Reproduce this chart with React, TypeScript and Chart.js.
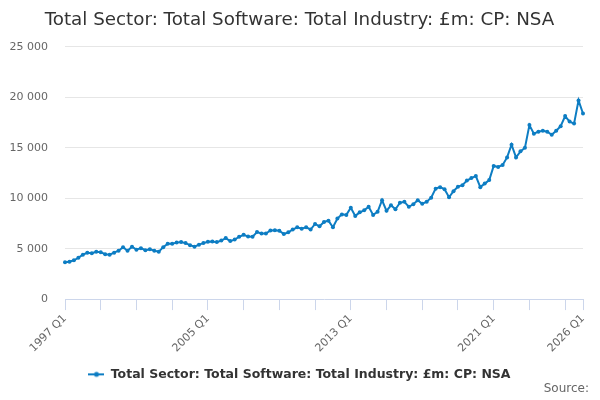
import { useEffect, useRef } from 'react';
import { Chart, registerables } from 'chart.js';
import type { ChartConfiguration } from 'chart.js';

Chart.register(...registerables);

const FIRST_YEAR = 1997;
const LAST_YEAR = 2026;
const quarterNames = ['Q1', 'Q2', 'Q3', 'Q4'];

// quarterly categories, 1997 Q1 .. 2026 Q1
const categories: string[] = [];
for (let y = FIRST_YEAR; y <= LAST_YEAR; y++) {
  for (const q of quarterNames) {
    if (y === LAST_YEAR && q !== 'Q1') break;
    categories.push(`${y} ${q}`);
  }
}

const labelledTicks = ['1997 Q1', '2005 Q1', '2013 Q1', '2021 Q1', '2026 Q1'];
const yTicks = [0, 5000, 10000, 15000, 20000, 25000];

// £m
const softwareSpend = [
  3650, 3700, 3850, 4100, 4400, 4600, 4550, 4700,
  4650, 4450, 4400, 4600, 4800, 5150, 4800, 5200,
  4900, 5050, 4850, 4950, 4800, 4700, 5150, 5500,
  5500, 5600, 5650, 5550, 5350, 5200, 5400, 5550,
  5680, 5720, 5650, 5800, 6050, 5750, 5900, 6180,
  6380, 6200, 6180, 6650, 6500, 6500, 6800, 6820,
  6780, 6450, 6620, 6900, 7120, 6980, 7120, 6900,
  7450, 7220, 7650, 7780, 7120, 7980, 8400, 8350,
  9050, 8250, 8600, 8800, 9150, 8350, 8650, 9800,
  8750, 9300, 8900, 9550, 9650, 9150, 9400, 9800,
  9450, 9650, 10050, 10950, 11100, 10900, 10100, 10700,
  11150, 11300, 11750, 12000, 12200, 11100, 11450, 11800,
  13200, 13100, 13300, 14050, 15300, 14050, 14650, 15000,
  17250, 16400, 16600, 16700, 16600, 16300, 16700, 17150,
  18150, 17600, 17400, 19700, 18400,
];

const SERIES_NAME = 'Total Sector: Total Software: Total Industry: £m: CP: NSA';
const LINE_COLOR = '#0d7dc3';
const FONT = '"DejaVu Sans", Verdana, sans-serif';

function legendSymbol(): HTMLCanvasElement {
  const c = document.createElement('canvas');
  c.width = 16;
  c.height = 8;
  const g = c.getContext('2d')!;
  g.strokeStyle = LINE_COLOR;
  g.lineWidth = 2;
  g.beginPath();
  g.moveTo(0, 4);
  g.lineTo(16, 4);
  g.stroke();
  g.fillStyle = LINE_COLOR;
  g.beginPath();
  g.arc(8, 4, 2.5, 0, Math.PI * 2);
  g.fill();
  return c;
}

const fmt = (v: number) => String(v).replace(/\B(?=(\d{3})+(?!\d))/g, ' ');

export default function App() {
  const canvasRef = useRef<HTMLCanvasElement>(null);

  useEffect(() => {
    if (!canvasRef.current) return;
    const last = categories.length - 1;

    const config: ChartConfiguration<'line'> = {
      type: 'line',
      data: {
        labels: categories,
        datasets: [
          {
            label: SERIES_NAME,
            data: softwareSpend,
            borderColor: LINE_COLOR,
            backgroundColor: LINE_COLOR,
            borderWidth: 2,
            pointRadius: 2,
            pointBorderWidth: 0,
            tension: 0,
          },
        ],
      },
      options: {
        responsive: false,
        animation: false,
        layout: { padding: { left: 10, right: 11, top: 0, bottom: 4 } },
        plugins: {
          title: {
            display: true,
            text: SERIES_NAME,
            color: '#333333',
            font: { family: FONT, size: 18.3, weight: 'normal' },
            padding: { top: 9, bottom: 16 },
          },
          subtitle: {
            display: true,
            text: 'Source:',
            position: 'bottom',
            align: 'end',
            color: '#666666',
            font: { family: FONT, size: 12, weight: 'normal' },
            // pulled up under the legend's own bottom spacing
            padding: { top: -9, bottom: 0 },
          },
          legend: {
            position: 'bottom',
            labels: {
              usePointStyle: true,
              pointStyle: legendSymbol(),
              pointStyleWidth: 16,
              color: '#333333',
              font: { family: FONT, size: 12.5, weight: 'bold' },
              padding: 2,
            },
          },
          tooltip: { enabled: false },
        },
        scales: {
          x: {
            type: 'category',
            border: { color: '#ccd6eb', width: 1 },
            grid: {
              drawOnChartArea: false,
              drawTicks: true,
              tickLength: 11,
              color: '#ccd6eb',
            },
            afterFit: (scale) => {
              scale.paddingLeft = 0;
              scale.paddingRight = 17;
              scale.height = 67;
            },
            ticks: {
              autoSkip: false,
              minRotation: 45,
              maxRotation: 45,
              padding: 2,
              color: '#666666',
              font: { family: FONT, size: 11 },
              callback: (_v, i) => {
                const lab = categories[i];
                if (labelledTicks.includes(lab)) return lab;
                if (i % 8 === 0 || i === last) return '';
                return null;
              },
            },
          },
          y: {
            min: yTicks[0],
            max: yTicks[yTicks.length - 1],
            border: { display: false },
            grid: {
              drawTicks: false,
              color: (ctx) => (ctx.tick && ctx.tick.value === 0 ? 'rgba(0,0,0,0)' : '#e6e6e6'),
            },
            afterBuildTicks: (axis) => {
              axis.ticks = yTicks.map((v) => ({ value: v }));
            },
            afterFit: (scale) => {
              scale.width = 55;
            },
            ticks: {
              padding: 17,
              color: '#666666',
              font: { family: FONT, size: 11 },
              callback: (v) => fmt(Number(v)),
            },
          },
        },
      },
    };

    const chart = new Chart(canvasRef.current, config);
    return () => chart.destroy();
  }, []);

  return (
    <div style={{ position: 'absolute', left: 0, top: 0, width: 600, height: 400, background: '#fff' }}>
      <canvas ref={canvasRef} width={600} height={400} />
    </div>
  );
}
